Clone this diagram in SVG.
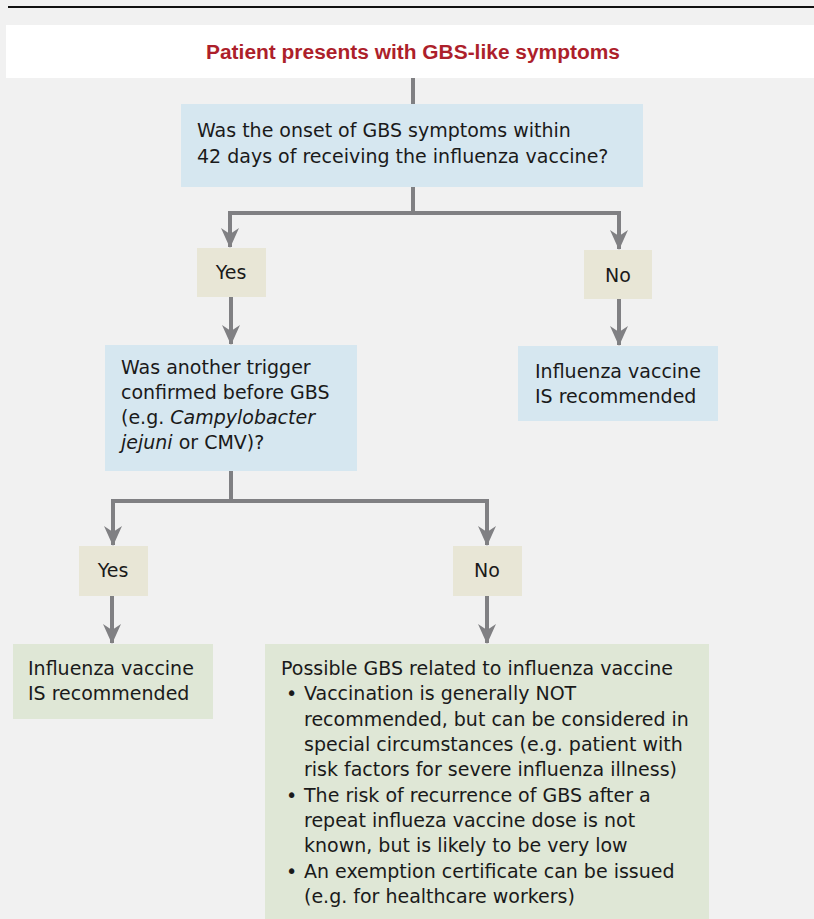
<svg xmlns="http://www.w3.org/2000/svg" width="814" height="919" viewBox="0 0 814 919">
<style>
.t{font-family:"DejaVu Sans","Liberation Sans",Arial,sans-serif;font-size:19px;fill:#1a1a1a}
.c{text-anchor:middle}
.q{fill:#d6e7f0}
.a{fill:#e8e6d6}
.g{fill:#dfe7d6}
.ln{fill:none;stroke:#808083;stroke-width:4}
</style>
<defs>
<marker id="ah" markerUnits="userSpaceOnUse" markerWidth="22" markerHeight="18" refX="20" refY="9" orient="auto" viewBox="0 0 22 18">
<path d="M1,0 L7,9 L1,18 L21,9 Z" fill="#808083"/>
</marker>
</defs>
<rect width="814" height="919" fill="#f1f1f1"/>
<line x1="8" y1="7" x2="814" y2="7" stroke="#111" stroke-width="2"/>
<g id="start">
<rect x="6" y="25" width="808" height="53" fill="#fff"/>
<text x="413" y="59" class="c" style="font-family:'Liberation Sans',Arial,sans-serif;font-weight:bold;font-size:20px;fill:#ad1f2b" textLength="414" lengthAdjust="spacingAndGlyphs">Patient presents with GBS-like symptoms</text>
</g>
<g id="connectors">
<path class="ln" d="M413,78 V104"/>
<path class="ln" d="M413,187 V213 M230,213 H619"/>
<path class="ln" d="M230,211 V247" marker-end="url(#ah)"/>
<path class="ln" d="M619,211 V249" marker-end="url(#ah)"/>
<path class="ln" d="M231,297 V344" marker-end="url(#ah)"/>
<path class="ln" d="M619,299 V345" marker-end="url(#ah)"/>
<path class="ln" d="M231,471 V501 M112,501 H488"/>
<path class="ln" d="M113,499 V545" marker-end="url(#ah)"/>
<path class="ln" d="M487,499 V545" marker-end="url(#ah)"/>
<path class="ln" d="M112,596 V643" marker-end="url(#ah)"/>
<path class="ln" d="M487,596 V643" marker-end="url(#ah)"/>
</g>
<g id="q1">
<rect class="q" x="181" y="104" width="462" height="83"/>
<text class="t" x="197" y="137">Was the onset of GBS symptoms within</text>
<text class="t" x="197" y="163">42 days of receiving the influenza vaccine?</text>
</g>
<g id="yes1">
<rect class="a" x="197" y="248" width="69" height="49"/>
<text class="t c" x="231" y="279">Yes</text>
</g>
<g id="no1">
<rect class="a" x="584" y="250" width="68" height="49"/>
<text class="t c" x="618" y="282">No</text>
</g>
<g id="q2">
<rect class="q" x="105" y="345" width="252" height="126"/>
<text class="t" x="121" y="374">Was another trigger</text>
<text class="t" x="121" y="399">confirmed before GBS</text>
<text class="t" x="121" y="424">(e.g. <tspan font-style="italic">Campylobacter</tspan></text>
<text class="t" x="121" y="449"><tspan font-style="italic">jejuni</tspan> or CMV)?</text>
</g>
<g id="rec1">
<rect class="q" x="518" y="346" width="200" height="75"/>
<text class="t" x="535" y="378">Influenza vaccine</text>
<text class="t" x="535" y="403">IS recommended</text>
</g>
<g id="yes2">
<rect class="a" x="79" y="546" width="69" height="50"/>
<text class="t c" x="113" y="577">Yes</text>
</g>
<g id="no2">
<rect class="a" x="453" y="546" width="69" height="50"/>
<text class="t c" x="487" y="577">No</text>
</g>
<g id="rec2">
<rect class="g" x="13" y="644" width="200" height="75"/>
<text class="t" x="28" y="675">Influenza vaccine</text>
<text class="t" x="28" y="700">IS recommended</text>
</g>
<g id="possible">
<rect class="g" x="265" y="644" width="444" height="280"/>
<text class="t" x="281" y="675">Possible GBS related to influenza vaccine</text>
<text class="t" x="286" y="700">•</text>
<text class="t" x="304" y="700">Vaccination is generally NOT</text>
<text class="t" x="304" y="726">recommended, but can be considered in</text>
<text class="t" x="304" y="751">special circumstances (e.g. patient with</text>
<text class="t" x="304" y="776">risk factors for severe influenza illness)</text>
<text class="t" x="286" y="802">•</text>
<text class="t" x="304" y="802">The risk of recurrence of GBS after a</text>
<text class="t" x="304" y="827">repeat influeza vaccine dose is not</text>
<text class="t" x="304" y="852">known, but is likely to be very low</text>
<text class="t" x="286" y="878">•</text>
<text class="t" x="304" y="878">An exemption certificate can be issued</text>
<text class="t" x="304" y="903">(e.g. for healthcare workers)</text>
</g>
</svg>
